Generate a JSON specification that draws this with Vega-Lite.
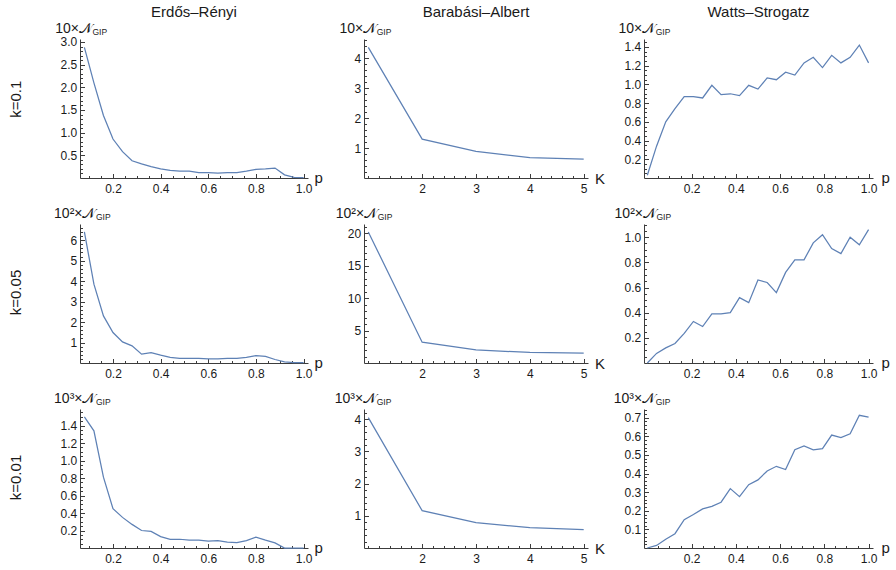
{
 "$schema": "https://vega.github.io/schema/vega-lite/v6.json",
 "background": "white",
 "padding": {"left": 8, "top": 5, "right": 5, "bottom": 5},
 "datasets": {
  "er1": [{"p":0.08,"v":2.88},{"p":0.12,"v":2.10},{"p":0.16,"v":1.38},{"p":0.20,"v":0.86},{"p":0.24,"v":0.58},{"p":0.28,"v":0.38},{"p":0.32,"v":0.31},{"p":0.36,"v":0.25},{"p":0.40,"v":0.20},{"p":0.44,"v":0.17},{"p":0.48,"v":0.15},{"p":0.52,"v":0.15},{"p":0.56,"v":0.12},{"p":0.60,"v":0.12},{"p":0.64,"v":0.11},{"p":0.68,"v":0.12},{"p":0.72,"v":0.12},{"p":0.76,"v":0.15},{"p":0.80,"v":0.19},{"p":0.84,"v":0.20},{"p":0.88,"v":0.22},{"p":0.92,"v":0.07},{"p":0.96,"v":0.015},{"p":1.0,"v":0.01}],
  "er2": [{"p":0.08,"v":6.41},{"p":0.12,"v":3.85},{"p":0.16,"v":2.30},{"p":0.20,"v":1.49},{"p":0.24,"v":1.03},{"p":0.28,"v":0.84},{"p":0.32,"v":0.43},{"p":0.36,"v":0.51},{"p":0.40,"v":0.38},{"p":0.44,"v":0.28},{"p":0.48,"v":0.23},{"p":0.52,"v":0.22},{"p":0.56,"v":0.22},{"p":0.60,"v":0.20},{"p":0.64,"v":0.20},{"p":0.68,"v":0.22},{"p":0.72,"v":0.23},{"p":0.76,"v":0.28},{"p":0.80,"v":0.36},{"p":0.84,"v":0.32},{"p":0.88,"v":0.17},{"p":0.92,"v":0.05},{"p":0.96,"v":0.02},{"p":1.0,"v":0.02}],
  "er3": [{"p":0.08,"v":1.50},{"p":0.12,"v":1.34},{"p":0.16,"v":0.81},{"p":0.20,"v":0.45},{"p":0.24,"v":0.35},{"p":0.28,"v":0.27},{"p":0.32,"v":0.20},{"p":0.36,"v":0.19},{"p":0.40,"v":0.13},{"p":0.44,"v":0.10},{"p":0.48,"v":0.10},{"p":0.52,"v":0.09},{"p":0.56,"v":0.09},{"p":0.60,"v":0.08},{"p":0.64,"v":0.085},{"p":0.68,"v":0.066},{"p":0.72,"v":0.062},{"p":0.76,"v":0.085},{"p":0.80,"v":0.125},{"p":0.84,"v":0.09},{"p":0.88,"v":0.058},{"p":0.92,"v":0.0},{"p":0.96,"v":0.0},{"p":1.0,"v":0.0}],
  "ba1": [{"K":1,"v":4.37},{"K":2,"v":1.30},{"K":3,"v":0.89},{"K":4,"v":0.68},{"K":5,"v":0.635}],
  "ba2": [{"K":1,"v":20.2},{"K":2,"v":3.2},{"K":3,"v":2.03},{"K":4,"v":1.62},{"K":5,"v":1.52}],
  "ba3": [{"K":1,"v":4.05},{"K":2,"v":1.16},{"K":3,"v":0.79},{"K":4,"v":0.63},{"K":5,"v":0.57}],
  "ws1": [{"p":0,"v":0.03},{"p":0.0417,"v":0.34},{"p":0.0833,"v":0.60},{"p":0.125,"v":0.74},{"p":0.1667,"v":0.87},{"p":0.2083,"v":0.87},{"p":0.25,"v":0.855},{"p":0.2917,"v":0.99},{"p":0.3333,"v":0.89},{"p":0.375,"v":0.90},{"p":0.4167,"v":0.88},{"p":0.4583,"v":0.99},{"p":0.5,"v":0.95},{"p":0.5417,"v":1.07},{"p":0.5833,"v":1.05},{"p":0.625,"v":1.13},{"p":0.6667,"v":1.10},{"p":0.7083,"v":1.23},{"p":0.75,"v":1.29},{"p":0.7917,"v":1.18},{"p":0.8333,"v":1.31},{"p":0.875,"v":1.23},{"p":0.9167,"v":1.29},{"p":0.9583,"v":1.42},{"p":1.0,"v":1.23}],
  "ws2": [{"p":0,"v":0.0},{"p":0.0417,"v":0.076},{"p":0.0833,"v":0.12},{"p":0.125,"v":0.155},{"p":0.1667,"v":0.235},{"p":0.2083,"v":0.33},{"p":0.25,"v":0.29},{"p":0.2917,"v":0.39},{"p":0.3333,"v":0.39},{"p":0.375,"v":0.40},{"p":0.4167,"v":0.52},{"p":0.4583,"v":0.48},{"p":0.5,"v":0.66},{"p":0.5417,"v":0.64},{"p":0.5833,"v":0.56},{"p":0.625,"v":0.72},{"p":0.6667,"v":0.82},{"p":0.7083,"v":0.82},{"p":0.75,"v":0.955},{"p":0.7917,"v":1.02},{"p":0.8333,"v":0.91},{"p":0.875,"v":0.87},{"p":0.9167,"v":1.0},{"p":0.9583,"v":0.94},{"p":1.0,"v":1.06}],
  "ws3": [{"p":0,"v":0.0},{"p":0.0417,"v":0.014},{"p":0.0833,"v":0.047},{"p":0.125,"v":0.077},{"p":0.1667,"v":0.152},{"p":0.2083,"v":0.18},{"p":0.25,"v":0.21},{"p":0.2917,"v":0.224},{"p":0.3333,"v":0.246},{"p":0.375,"v":0.319},{"p":0.4167,"v":0.276},{"p":0.4583,"v":0.34},{"p":0.5,"v":0.366},{"p":0.5417,"v":0.414},{"p":0.5833,"v":0.439},{"p":0.625,"v":0.422},{"p":0.6667,"v":0.528},{"p":0.7083,"v":0.548},{"p":0.75,"v":0.528},{"p":0.7917,"v":0.534},{"p":0.8333,"v":0.607},{"p":0.875,"v":0.593},{"p":0.9167,"v":0.614},{"p":0.9583,"v":0.713},{"p":1.0,"v":0.703}]
 },
 "columns": 3,
 "spacing": {"row": 46, "column": 56},
 "bounds": "flush",
 "concat": [
  {
   "width": 228, "height": 139,
   "title": {"text": "Erdős–Rényi", "frame": "group", "anchor": "middle", "offset": -11, "baseline": "alphabetic"},
   "data": {"name": "er1"},
   "resolve": {"axis": {"x": "independent", "y": "independent"}},
   "layer": [
    {"mark": "line", "encoding": {
      "x": {"field": "p", "type": "quantitative", "scale": {"domain": [0.0616, 1.0184], "nice": false, "zero": false},
            "axis": {"orient": "bottom", "values": [0.2,0.4,0.6,0.8,1.0], "format": ".1f", "tickSize": -4.5, "labelPadding": 9.5, "title": "p", "titleX": 234, "titleY": 4.5, "titleAlign": "left", "titleBaseline": "alphabetic", "titleAngle": 0, "titleFontSize": 15}},
      "y": {"field": "v", "type": "quantitative", "scale": {"domain": [0, 3.066], "nice": false},
            "axis": {"orient": "left", "values": [0.5,1,1.5,2,2.5,3], "format": ".1f", "tickSize": -4.5, "labelPadding": 7.8, "title": "10×𝒩", "titleX": 11.5, "titleY": -6.7, "titleAlign": "right", "titleBaseline": "alphabetic", "titleAngle": 0, "titleFontSize": 14}}}},
    {"mark": {"type": "line", "strokeOpacity": 0}, "encoding": {
      "x": {"field": "p", "type": "quantitative", "scale": {"domain": [0.0616, 1.0184], "nice": false, "zero": false},
            "axis": {"orient": "bottom", "values": [0.1,0.15,0.2,0.25,0.3,0.35,0.4,0.45,0.5,0.55,0.6,0.65,0.7,0.75,0.8,0.85,0.9,0.95,1.0], "labels": false, "domain": false, "tickSize": -2.5, "title": "k=0.1", "titleX": -64.3, "titleY": -79.3, "titleAngle": -90, "titleAlign": "center", "titleBaseline": "middle", "titleFontSize": 15}},
      "y": {"field": "v", "type": "quantitative", "scale": {"domain": [0, 3.066], "nice": false},
            "axis": {"orient": "left", "values": [0.1,0.2,0.3,0.4,0.5,0.6,0.7,0.8,0.9,1.0,1.1,1.2,1.3,1.4,1.5,1.6,1.7,1.8,1.9,2.0,2.1,2.2,2.3,2.4,2.5,2.6,2.7,2.8,2.9,3.0], "labels": false, "domain": false, "tickSize": -2.5, "title": "GIP", "titleX": 12, "titleY": -5, "titleAlign": "left", "titleBaseline": "alphabetic", "titleAngle": 0, "titleFontSize": 8.5}}}}
   ]
  },
  {
   "width": 224, "height": 139,
   "title": {"text": "Barabási–Albert", "frame": "group", "anchor": "middle", "offset": -11, "baseline": "alphabetic"},
   "data": {"name": "ba1"},
   "resolve": {"axis": {"x": "independent", "y": "independent"}},
   "layer": [
    {"mark": "line", "encoding": {
      "x": {"field": "K", "type": "quantitative", "scale": {"domain": [0.92, 5.08], "nice": false, "zero": false},
            "axis": {"orient": "bottom", "values": [2,3,4,5], "format": "d", "tickSize": -4.5, "labelPadding": 9.5, "title": "K", "titleX": 230.5, "titleY": 5, "titleAlign": "left", "titleBaseline": "alphabetic", "titleAngle": 0, "titleFontSize": 15}},
      "y": {"field": "v", "type": "quantitative", "scale": {"domain": [0, 4.65], "nice": false},
            "axis": {"orient": "left", "values": [1,2,3,4], "format": "d", "tickSize": -4.5, "labelPadding": 7.8, "title": "10×𝒩", "titleX": 11.7, "titleY": -6.7, "titleAlign": "right", "titleBaseline": "alphabetic", "titleAngle": 0, "titleFontSize": 14}}}},
    {"mark": {"type": "line", "strokeOpacity": 0}, "encoding": {
      "x": {"field": "K", "type": "quantitative", "scale": {"domain": [0.92, 5.08], "nice": false, "zero": false},
            "axis": {"orient": "bottom", "values": [1,1.2,1.4,1.6,1.8,2,2.2,2.4,2.6,2.8,3,3.2,3.4,3.6,3.8,4,4.2,4.4,4.6,4.8,5], "labels": false, "domain": false, "tickSize": -2.5, "title": null}},
      "y": {"field": "v", "type": "quantitative", "scale": {"domain": [0, 4.65], "nice": false},
            "axis": {"orient": "left", "values": [0.2,0.4,0.6,0.8,1,1.2,1.4,1.6,1.8,2,2.2,2.4,2.6,2.8,3,3.2,3.4,3.6,3.8,4,4.2,4.4,4.6], "labels": false, "domain": false, "tickSize": -2.5, "title": "GIP", "titleX": 12.2, "titleY": -5, "titleAlign": "left", "titleBaseline": "alphabetic", "titleAngle": 0, "titleFontSize": 8.5}}}}
   ]
  },
  {
   "width": 229, "height": 139,
   "title": {"text": "Watts–Strogatz", "frame": "group", "anchor": "middle", "offset": -11, "baseline": "alphabetic"},
   "data": {"name": "ws1"},
   "resolve": {"axis": {"x": "independent", "y": "independent"}},
   "layer": [
    {"mark": "line", "encoding": {
      "x": {"field": "p", "type": "quantitative", "scale": {"domain": [-0.015, 1.02], "nice": false, "zero": false},
            "axis": {"orient": "bottom", "values": [0.2,0.4,0.6,0.8,1.0], "format": ".1f", "tickSize": -4.5, "labelPadding": 9.5, "title": "p", "titleX": 237, "titleY": 4.5, "titleAlign": "left", "titleBaseline": "alphabetic", "titleAngle": 0, "titleFontSize": 15}},
      "y": {"field": "v", "type": "quantitative", "scale": {"domain": [0, 1.485], "nice": false},
            "axis": {"orient": "left", "values": [0.2,0.4,0.6,0.8,1.0,1.2,1.4], "format": ".1f", "tickSize": -4.5, "labelPadding": 7.8, "title": "10×𝒩", "titleX": 10.7, "titleY": -6.7, "titleAlign": "right", "titleBaseline": "alphabetic", "titleAngle": 0, "titleFontSize": 14}}}},
    {"mark": {"type": "line", "strokeOpacity": 0}, "encoding": {
      "x": {"field": "p", "type": "quantitative", "scale": {"domain": [-0.015, 1.02], "nice": false, "zero": false},
            "axis": {"orient": "bottom", "values": [0.05,0.1,0.15,0.2,0.25,0.3,0.35,0.4,0.45,0.5,0.55,0.6,0.65,0.7,0.75,0.8,0.85,0.9,0.95,1.0], "labels": false, "domain": false, "tickSize": -2.5, "title": null}},
      "y": {"field": "v", "type": "quantitative", "scale": {"domain": [0, 1.485], "nice": false},
            "axis": {"orient": "left", "values": [0.05,0.1,0.15,0.2,0.25,0.3,0.35,0.4,0.45,0.5,0.55,0.6,0.65,0.7,0.75,0.8,0.85,0.9,0.95,1.0,1.05,1.1,1.15,1.2,1.25,1.3,1.35,1.4,1.45], "labels": false, "domain": false, "tickSize": -2.5, "title": "GIP", "titleX": 11.2, "titleY": -5, "titleAlign": "left", "titleBaseline": "alphabetic", "titleAngle": 0, "titleFontSize": 8.5}}}}
   ]
  },
  {
   "width": 228, "height": 139,
   "data": {"name": "er2"},
   "resolve": {"axis": {"x": "independent", "y": "independent"}},
   "layer": [
    {"mark": "line", "encoding": {
      "x": {"field": "p", "type": "quantitative", "scale": {"domain": [0.0616, 1.0184], "nice": false, "zero": false},
            "axis": {"orient": "bottom", "values": [0.2,0.4,0.6,0.8,1.0], "format": ".1f", "tickSize": -4.5, "labelPadding": 9.5, "title": "p", "titleX": 234, "titleY": 4.5, "titleAlign": "left", "titleBaseline": "alphabetic", "titleAngle": 0, "titleFontSize": 15}},
      "y": {"field": "v", "type": "quantitative", "scale": {"domain": [0, 6.79], "nice": false},
            "axis": {"orient": "left", "values": [1,2,3,4,5,6], "format": "d", "tickSize": -4.5, "labelPadding": 7.8, "title": "10²×𝒩", "titleX": 15, "titleY": -6.7, "titleAlign": "right", "titleBaseline": "alphabetic", "titleAngle": 0, "titleFontSize": 14}}}},
    {"mark": {"type": "line", "strokeOpacity": 0}, "encoding": {
      "x": {"field": "p", "type": "quantitative", "scale": {"domain": [0.0616, 1.0184], "nice": false, "zero": false},
            "axis": {"orient": "bottom", "values": [0.1,0.15,0.2,0.25,0.3,0.35,0.4,0.45,0.5,0.55,0.6,0.65,0.7,0.75,0.8,0.85,0.9,0.95,1.0], "labels": false, "domain": false, "tickSize": -2.5, "title": "k=0.05", "titleX": -64.3, "titleY": -71, "titleAngle": -90, "titleAlign": "center", "titleBaseline": "middle", "titleFontSize": 15}},
      "y": {"field": "v", "type": "quantitative", "scale": {"domain": [0, 6.79], "nice": false},
            "axis": {"orient": "left", "values": [0.2,0.4,0.6,0.8,1,1.2,1.4,1.6,1.8,2,2.2,2.4,2.6,2.8,3,3.2,3.4,3.6,3.8,4,4.2,4.4,4.6,4.8,5,5.2,5.4,5.6,5.8,6,6.2,6.4,6.6], "labels": false, "domain": false, "tickSize": -2.5, "title": "GIP", "titleX": 15.5, "titleY": -5, "titleAlign": "left", "titleBaseline": "alphabetic", "titleAngle": 0, "titleFontSize": 8.5}}}}
   ]
  },
  {
   "width": 224, "height": 139,
   "data": {"name": "ba2"},
   "resolve": {"axis": {"x": "independent", "y": "independent"}},
   "layer": [
    {"mark": "line", "encoding": {
      "x": {"field": "K", "type": "quantitative", "scale": {"domain": [0.92, 5.08], "nice": false, "zero": false},
            "axis": {"orient": "bottom", "values": [2,3,4,5], "format": "d", "tickSize": -4.5, "labelPadding": 9.5, "title": "K", "titleX": 230.5, "titleY": 5, "titleAlign": "left", "titleBaseline": "alphabetic", "titleAngle": 0, "titleFontSize": 15}},
      "y": {"field": "v", "type": "quantitative", "scale": {"domain": [0, 21.42], "nice": false},
            "axis": {"orient": "left", "values": [5,10,15,20], "format": "d", "tickSize": -4.5, "labelPadding": 7.8, "title": "10²×𝒩", "titleX": 12.7, "titleY": -6.7, "titleAlign": "right", "titleBaseline": "alphabetic", "titleAngle": 0, "titleFontSize": 14}}}},
    {"mark": {"type": "line", "strokeOpacity": 0}, "encoding": {
      "x": {"field": "K", "type": "quantitative", "scale": {"domain": [0.92, 5.08], "nice": false, "zero": false},
            "axis": {"orient": "bottom", "values": [1,1.2,1.4,1.6,1.8,2,2.2,2.4,2.6,2.8,3,3.2,3.4,3.6,3.8,4,4.2,4.4,4.6,4.8,5], "labels": false, "domain": false, "tickSize": -2.5, "title": null}},
      "y": {"field": "v", "type": "quantitative", "scale": {"domain": [0, 21.42], "nice": false},
            "axis": {"orient": "left", "values": [1,2,3,4,5,6,7,8,9,10,11,12,13,14,15,16,17,18,19,20,21], "labels": false, "domain": false, "tickSize": -2.5, "title": "GIP", "titleX": 13.2, "titleY": -5, "titleAlign": "left", "titleBaseline": "alphabetic", "titleAngle": 0, "titleFontSize": 8.5}}}}
   ]
  },
  {
   "width": 229, "height": 139,
   "data": {"name": "ws2"},
   "resolve": {"axis": {"x": "independent", "y": "independent"}},
   "layer": [
    {"mark": "line", "encoding": {
      "x": {"field": "p", "type": "quantitative", "scale": {"domain": [-0.015, 1.02], "nice": false, "zero": false},
            "axis": {"orient": "bottom", "values": [0.2,0.4,0.6,0.8,1.0], "format": ".1f", "tickSize": -4.5, "labelPadding": 9.5, "title": "p", "titleX": 237, "titleY": 4.5, "titleAlign": "left", "titleBaseline": "alphabetic", "titleAngle": 0, "titleFontSize": 15}},
      "y": {"field": "v", "type": "quantitative", "scale": {"domain": [0, 1.105], "nice": false},
            "axis": {"orient": "left", "values": [0.2,0.4,0.6,0.8,1.0], "format": ".1f", "tickSize": -4.5, "labelPadding": 7.8, "title": "10²×𝒩", "titleX": 11.5, "titleY": -6.7, "titleAlign": "right", "titleBaseline": "alphabetic", "titleAngle": 0, "titleFontSize": 14}}}},
    {"mark": {"type": "line", "strokeOpacity": 0}, "encoding": {
      "x": {"field": "p", "type": "quantitative", "scale": {"domain": [-0.015, 1.02], "nice": false, "zero": false},
            "axis": {"orient": "bottom", "values": [0.05,0.1,0.15,0.2,0.25,0.3,0.35,0.4,0.45,0.5,0.55,0.6,0.65,0.7,0.75,0.8,0.85,0.9,0.95,1.0], "labels": false, "domain": false, "tickSize": -2.5, "title": null}},
      "y": {"field": "v", "type": "quantitative", "scale": {"domain": [0, 1.105], "nice": false},
            "axis": {"orient": "left", "values": [0.05,0.1,0.15,0.2,0.25,0.3,0.35,0.4,0.45,0.5,0.55,0.6,0.65,0.7,0.75,0.8,0.85,0.9,0.95,1.0,1.05,1.1], "labels": false, "domain": false, "tickSize": -2.5, "title": "GIP", "titleX": 12, "titleY": -5, "titleAlign": "left", "titleBaseline": "alphabetic", "titleAngle": 0, "titleFontSize": 8.5}}}}
   ]
  },
  {
   "width": 228, "height": 139,
   "data": {"name": "er3"},
   "resolve": {"axis": {"x": "independent", "y": "independent"}},
   "layer": [
    {"mark": "line", "encoding": {
      "x": {"field": "p", "type": "quantitative", "scale": {"domain": [0.0616, 1.0184], "nice": false, "zero": false},
            "axis": {"orient": "bottom", "values": [0.2,0.4,0.6,0.8,1.0], "format": ".1f", "tickSize": -4.5, "labelPadding": 9.5, "title": "p", "titleX": 234, "titleY": 4.5, "titleAlign": "left", "titleBaseline": "alphabetic", "titleAngle": 0, "titleFontSize": 15}},
      "y": {"field": "v", "type": "quantitative", "scale": {"domain": [0, 1.589], "nice": false},
            "axis": {"orient": "left", "values": [0.2,0.4,0.6,0.8,1.0,1.2,1.4], "format": ".1f", "tickSize": -4.5, "labelPadding": 7.8, "title": "10³×𝒩", "titleX": 15, "titleY": -6.7, "titleAlign": "right", "titleBaseline": "alphabetic", "titleAngle": 0, "titleFontSize": 14}}}},
    {"mark": {"type": "line", "strokeOpacity": 0}, "encoding": {
      "x": {"field": "p", "type": "quantitative", "scale": {"domain": [0.0616, 1.0184], "nice": false, "zero": false},
            "axis": {"orient": "bottom", "values": [0.1,0.15,0.2,0.25,0.3,0.35,0.4,0.45,0.5,0.55,0.6,0.65,0.7,0.75,0.8,0.85,0.9,0.95,1.0], "labels": false, "domain": false, "tickSize": -2.5, "title": "k=0.01", "titleX": -64.3, "titleY": -71, "titleAngle": -90, "titleAlign": "center", "titleBaseline": "middle", "titleFontSize": 15}},
      "y": {"field": "v", "type": "quantitative", "scale": {"domain": [0, 1.589], "nice": false},
            "axis": {"orient": "left", "values": [0.05,0.1,0.15,0.2,0.25,0.3,0.35,0.4,0.45,0.5,0.55,0.6,0.65,0.7,0.75,0.8,0.85,0.9,0.95,1.0,1.05,1.1,1.15,1.2,1.25,1.3,1.35,1.4,1.45,1.5,1.55], "labels": false, "domain": false, "tickSize": -2.5, "title": "GIP", "titleX": 15.5, "titleY": -5, "titleAlign": "left", "titleBaseline": "alphabetic", "titleAngle": 0, "titleFontSize": 8.5}}}}
   ]
  },
  {
   "width": 224, "height": 139,
   "data": {"name": "ba3"},
   "resolve": {"axis": {"x": "independent", "y": "independent"}},
   "layer": [
    {"mark": "line", "encoding": {
      "x": {"field": "K", "type": "quantitative", "scale": {"domain": [0.92, 5.08], "nice": false, "zero": false},
            "axis": {"orient": "bottom", "values": [2,3,4,5], "format": "d", "tickSize": -4.5, "labelPadding": 9.5, "title": "K", "titleX": 230.5, "titleY": 5, "titleAlign": "left", "titleBaseline": "alphabetic", "titleAngle": 0, "titleFontSize": 15}},
      "y": {"field": "v", "type": "quantitative", "scale": {"domain": [0, 4.32], "nice": false},
            "axis": {"orient": "left", "values": [1,2,3,4], "format": "d", "tickSize": -4.5, "labelPadding": 7.8, "title": "10³×𝒩", "titleX": 11.7, "titleY": -6.7, "titleAlign": "right", "titleBaseline": "alphabetic", "titleAngle": 0, "titleFontSize": 14}}}},
    {"mark": {"type": "line", "strokeOpacity": 0}, "encoding": {
      "x": {"field": "K", "type": "quantitative", "scale": {"domain": [0.92, 5.08], "nice": false, "zero": false},
            "axis": {"orient": "bottom", "values": [1,1.2,1.4,1.6,1.8,2,2.2,2.4,2.6,2.8,3,3.2,3.4,3.6,3.8,4,4.2,4.4,4.6,4.8,5], "labels": false, "domain": false, "tickSize": -2.5, "title": null}},
      "y": {"field": "v", "type": "quantitative", "scale": {"domain": [0, 4.32], "nice": false},
            "axis": {"orient": "left", "values": [0.2,0.4,0.6,0.8,1,1.2,1.4,1.6,1.8,2,2.2,2.4,2.6,2.8,3,3.2,3.4,3.6,3.8,4,4.2], "labels": false, "domain": false, "tickSize": -2.5, "title": "GIP", "titleX": 12.2, "titleY": -5, "titleAlign": "left", "titleBaseline": "alphabetic", "titleAngle": 0, "titleFontSize": 8.5}}}}
   ]
  },
  {
   "width": 229, "height": 139,
   "data": {"name": "ws3"},
   "resolve": {"axis": {"x": "independent", "y": "independent"}},
   "layer": [
    {"mark": "line", "encoding": {
      "x": {"field": "p", "type": "quantitative", "scale": {"domain": [-0.015, 1.02], "nice": false, "zero": false},
            "axis": {"orient": "bottom", "values": [0.2,0.4,0.6,0.8,1.0], "format": ".1f", "tickSize": -4.5, "labelPadding": 9.5, "title": "p", "titleX": 237, "titleY": 4.5, "titleAlign": "left", "titleBaseline": "alphabetic", "titleAngle": 0, "titleFontSize": 15}},
      "y": {"field": "v", "type": "quantitative", "scale": {"domain": [0, 0.747], "nice": false},
            "axis": {"orient": "left", "values": [0.1,0.2,0.3,0.4,0.5,0.6,0.7], "format": ".1f", "tickSize": -4.5, "labelPadding": 7.8, "title": "10³×𝒩", "titleX": 10.7, "titleY": -6.7, "titleAlign": "right", "titleBaseline": "alphabetic", "titleAngle": 0, "titleFontSize": 14}}}},
    {"mark": {"type": "line", "strokeOpacity": 0}, "encoding": {
      "x": {"field": "p", "type": "quantitative", "scale": {"domain": [-0.015, 1.02], "nice": false, "zero": false},
            "axis": {"orient": "bottom", "values": [0.05,0.1,0.15,0.2,0.25,0.3,0.35,0.4,0.45,0.5,0.55,0.6,0.65,0.7,0.75,0.8,0.85,0.9,0.95,1.0], "labels": false, "domain": false, "tickSize": -2.5, "title": null}},
      "y": {"field": "v", "type": "quantitative", "scale": {"domain": [0, 0.747], "nice": false},
            "axis": {"orient": "left", "values": [0.02,0.04,0.06,0.08,0.1,0.12,0.14,0.16,0.18,0.2,0.22,0.24,0.26,0.28,0.3,0.32,0.34,0.36,0.38,0.4,0.42,0.44,0.46,0.48,0.5,0.52,0.54,0.56,0.58,0.6,0.62,0.64,0.66,0.68,0.7,0.72,0.74], "labels": false, "domain": false, "tickSize": -2.5, "title": "GIP", "titleX": 11.2, "titleY": -5, "titleAlign": "left", "titleBaseline": "alphabetic", "titleAngle": 0, "titleFontSize": 8.5}}}}
   ]
  }
 ],
 "config": {
  "view": {"stroke": null},
  "font": "Liberation Sans",
  "axis": {"grid": false, "domainColor": "#3c3c3c", "tickColor": "#3c3c3c", "labelColor": "#1a1a1a", "labelFontSize": 12, "labelFont": "Liberation Sans", "titleColor": "#1a1a1a", "titleFont": "Liberation Sans", "titleFontWeight": "normal", "labelFlush": false, "labelOverlap": false, "labelBound": false},
  "title": {"fontSize": 15, "fontWeight": "normal", "color": "#1a1a1a", "font": "Liberation Sans"},
  "line": {"color": "#5E81B5", "strokeWidth": 1.25}
 }
}
